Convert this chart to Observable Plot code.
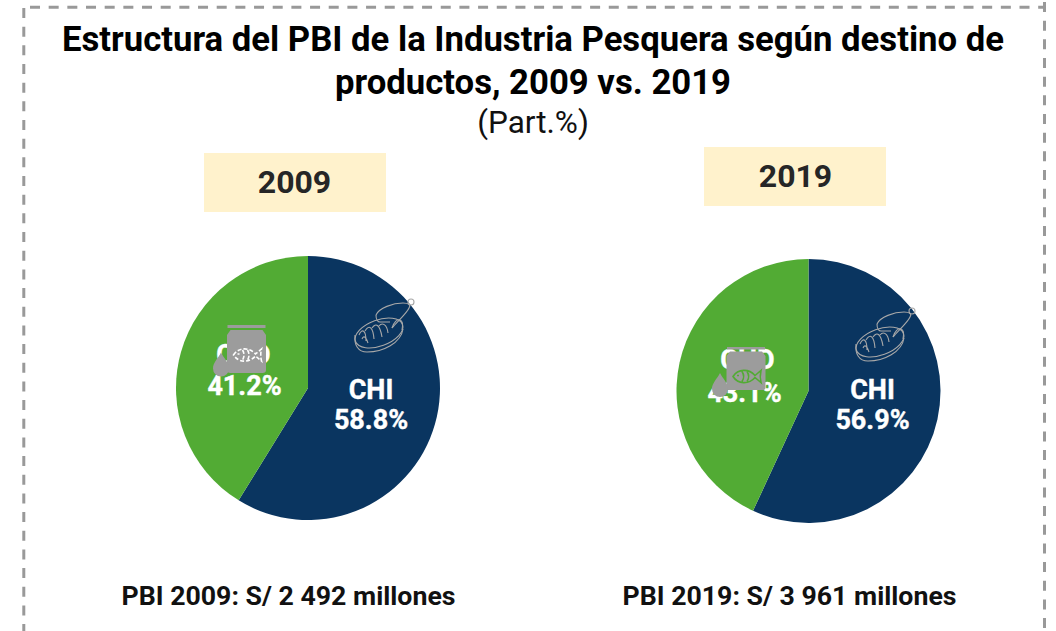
<!DOCTYPE html>
<html><head><meta charset="utf-8">
<style>html,body{margin:0;padding:0;background:#fff}svg{display:block}</style>
<script src="https://cdn.jsdelivr.net/npm/d3@7"></script>
<script src="https://cdn.jsdelivr.net/npm/@observablehq/plot@0.6"></script>
</head><body><script>
// ---- data ----
const years = ["2009", "2019"];
const chiShare = [58.8, 56.9];
const chdShare = [41.2, 43.1];
const segmentNames = ["CHI", "CHD"];
const totals = ["PBI 2009: S/ 2 492 millones", "PBI 2019: S/ 3 961 millones"];
const titleLines = ["Estructura del PBI de la Industria Pesquera según destino de", "productos, 2009 vs. 2019"];
const subtitle = "(Part.%)";

// ---- layout (pixels on the 1056×631 canvas) ----
const W = 1056, H = 631, FONT = "Roboto, sans-serif";
const pieCx = [308, 808.5], pieCy = [388, 391], pieR = 132;
const boxes = [{x1:204,x2:386,y1:153,y2:212},{x1:704,x2:886,y1:147,y2:206}];
const labelPos = [
  {chiX:370.5,chiY:390,chiPctY:420,chdX:243,chdY:355,chdPctX:244,chdPctY:386},
  {chiX:872,chiY:390,chiPctY:420,chdX:747,chdY:360,chdPctX:744,chdPctY:393}
];
const COLORS = {CHI:"#0a3560", CHD:"#52ab34"};
const ICON = "#9c9c9c";

const pct = v => v.toFixed(1) + "%";

// pie slices through d3.pie/d3.arc, placed via the plot scales
function pies(index, {x, y}) {
  const g = d3.create("svg:g");
  const arc = d3.arc().innerRadius(0).outerRadius(pieR);
  years.forEach((yr, i) => {
    const parts = d3.pie().sort(null)([chiShare[i], chdShare[i]]);
    g.selectAll(null).data(parts).join("path")
      .attr("transform", `translate(${x(pieCx[i])},${y(pieCy[i])})`)
      .attr("d", arc)
      .attr("fill", (d, k) => COLORS[segmentNames[k]])
      .append("title").text((d, k) => `${yr} ${segmentNames[k]}: ${pct(d.value)}`);
  });
  return g.node();
}

// decorative icons
const FISH = "M-13,0 C-8,-8 3,-8 9,-1 L15,-6 C14,-2 14,2 15,6 L9,1 C3,8 -8,8 -13,0 Z M-9,-1 h2 M-4,-5 C-2,-2 -2,2 -4,5 M1,-5 C3,-2 3,2 1,5";
const JAR = "M-19,-24 H19 V-21 H-19 Z M-16,-19 H16 L19.5,-14 V21 Q19.5,24 16,24 H-16 Q-19.5,24 -19.5,21 V-14 Z";
const DROP = "M0,-12 C3,-6 8,-2 8,4 A8,8 0 0 1 -8,4 C-8,-2 -3,-6 0,-12 Z";
function jar(g, cx, cy, sy, fishDy, dropX, dropY, fishColor, dash) {
  const t = g.append("g").attr("transform", `translate(${cx},${cy})`);
  t.append("path").attr("d", JAR).attr("transform", `scale(1,${sy})`).attr("fill", ICON);
  t.append("path").attr("d", FISH).attr("transform", `translate(0,${fishDy})`).attr("fill", "none").attr("stroke", fishColor)
    .attr("stroke-width", 1.6).attr("stroke-dasharray", dash);
  t.append("path").attr("d", DROP).attr("transform", `translate(${dropX - cx},${dropY - cy})`).attr("fill", ICON);
}
function can(g, cx, cy) {
  const t = g.append("g").attr("transform", `translate(${cx},${cy})`)
    .attr("fill", "none").attr("stroke", "#a8a8a8").attr("stroke-width", 1.1);
  t.append("ellipse").attr("cx", -6).attr("cy", 8).attr("rx", 25).attr("ry", 13).attr("transform", "rotate(-20 -6 8)");
  t.append("path").attr("d", "M-30,10 C-31,20 -27,27 -18,27 C-2,27 16,18 18,4");
  t.append("path").attr("d", "M-26,10 C-23,3 -19,5 -19,16 M-20,6 C-16,-1 -12,2 -11,14 M-13,3 C-9,-3 -5,0 -3,12 M-6,1 C-3,-3 2,-1 3,8 M-23,14 C-21,10 -19,12 -17,18");
  t.append("path").attr("d", "M-9,-10 C-6,-17 8,-22 18,-22 C24,-22 26,-20 24,-17 C22,-12 12,-3 7,3");
  t.append("path").attr("d", "M-9,-10 C-9,-5 -7,-3 -5,-3 C-1,-3 3,-3 5,-3 M7,3 C9,-3 12,-6 15,-5 C18,-4 18,0 17,5");
  t.append("circle").attr("cx", 26).attr("cy", -23).attr("r", 3);
}
function icons(index, {x, y}) {
  const g = d3.create("svg:g");
  jar(g, x(246.5), y(349), 1, 6, 221, 364.5, "#ffffff", "4 2");
  jar(g, x(746), y(368.5), 0.9, 8, 720, 385, COLORS.CHD, null);
  can(g, x(385), y(325));
  can(g, x(886), y(334));
  return g.node();
}

const text = (rows, o) => Plot.text(rows, {x:"x", y:"y", text:"t", fontFamily:FONT, textAnchor:"middle", lineAnchor:"middle", ...o});

const labels = [];
years.forEach((_, i) => {
  const p = labelPos[i];
  labels.push({x:p.chiX, y:p.chiY, t:segmentNames[0]},
              {x:p.chiX, y:p.chiPctY, t:pct(chiShare[i])},
              {x:p.chdX, y:p.chdY, t:segmentNames[1]},
              {x:p.chdPctX, y:p.chdPctY, t:pct(chdShare[i])});
});

const border = {stroke:"#999", strokeWidth:3, strokeDasharray:"10 8.67"};
const plot = Plot.plot({
  width:W, height:H, margin:0, style:{background:"#fff"},
  x:{domain:[0,W], range:[0,W], axis:null},
  y:{domain:[0,H], range:[0,H], axis:null},
  marks:[
    Plot.ruleY([6.7], {x1:30, x2:1046, ...border}),
    Plot.ruleX([23.3], {y1:8, y2:H, ...border}),
    Plot.ruleX([1044], {y1:2, y2:H, ...border}),
    text([{x:532.5,y:39.5,t:titleLines[0]},{x:532.5,y:82.5,t:titleLines[1]}], {fontSize:34.7, fontWeight:700, fill:"#000"}),
    text([{x:532.5,y:122,t:subtitle}], {fontSize:31.5, fill:"#111"}),
    Plot.rect(boxes, {x1:"x1", x2:"x2", y1:"y1", y2:"y2", fill:"#fff2cc"}),
    text([{x:294,y:182,t:years[0]},{x:795,y:176,t:years[1]}], {fontSize:32, fontWeight:700, fill:"#262626"}),
    pies,
    text(labels, {fontSize:27, fontWeight:700, fill:"#fff", stroke:"#fff", strokeWidth:0.4}),
    icons,
    text([{x:288,y:596,t:totals[0]},{x:789,y:596,t:totals[1]}], {fontSize:26.7, fontWeight:700, fill:"#111"})
  ]
});
document.body.appendChild(plot);
</script></body></html>
